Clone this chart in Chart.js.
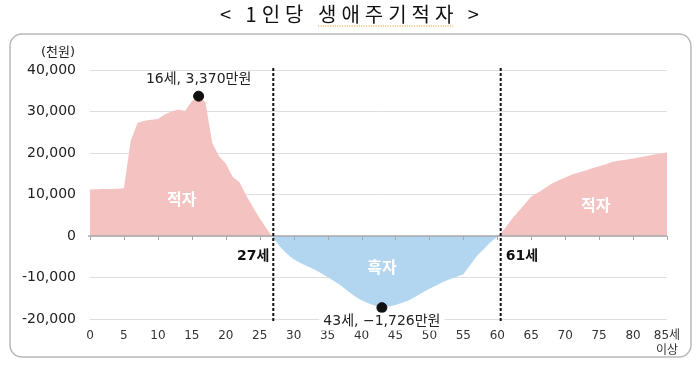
<!DOCTYPE html>
<html>
<head>
<meta charset="utf-8">
<script src="https://cdn.jsdelivr.net/npm/chart.js@4"></script>
<style>
  html, body { margin: 0; padding: 0; background: #fff; }
  #wrap { width: 698px; height: 368px; }
</style>
</head>
<body>
<div id="wrap"><canvas id="lcdChart" width="698" height="368"></canvas></div>
<script>
const ages = [0, 1, 2, 3, 4, 5, 6, 7, 8, 9, 10, 11, 12, 13, 14, 15, 16, 17, 18, 19,
  20, 21, 22, 23, 24, 25, 26, 27, 28, 29, 30, 31, 32, 33, 34, 35, 36, 37, 38, 39,
  40, 41, 42, 43, 44, 45, 46, 47, 48, 49, 50, 51, 52, 53, 54, 55, 56, 57, 58, 59,
  60, 61, 62, 63, 64, 65, 66, 67, 68, 69, 70, 71, 72, 73, 74, 75, 76, 77, 78, 79,
  80, 81, 82, 83, 84, 85];
// 1인당 생애주기적자 (천원)
const deficit = [11200, 11250, 11300, 11350, 11400, 11500, 23000, 27200, 27800, 28000,
  28200, 29300, 30000, 30500, 30100, 32500, 33700, 32300, 22500, 19200,
  17500, 14300, 13000, 9800, 7000, 4300, 1800, -500, -2600, -4300,
  -5600, -6500, -7300, -8000, -8900, -9900, -10900, -12000, -13300, -14500,
  -15500, -16200, -16800, -17260, -17000, -16600, -16100, -15500, -14600, -13600,
  -12700, -11900, -11100, -10400, -9800, -9200, -7000, -4800, -3200, -1500,
  -200, 1500, 3800, 5700, 7600, 9500, 10500, 11500, 12600, 13400,
  14100, 14800, 15300, 15800, 16300, 16800, 17300, 17900, 18200, 18400,
  18700, 19000, 19300, 19600, 19900, 20100];

const peakAges = [16, 43];
const peakValues = [33700, -17260];
const peakLabels = ['16세, 3,370만원', '43세, \u22121,726만원'];

const turnAges = [27, 60.5];
const turnLabels = ['27세', '61세'];

const areaLabels = ['적자', '흑자', '적자'];
const areaAges = [13.5, 43, 74.5];
const areaValues = [9000, -7500, 7500];

const yUnit = '(천원)';
const titlePre = '< 1인당 ';
const titleMain = '생애주기적자';
const titlePost = ' >';

const FONT = "'DejaVu Sans', 'Noto Sans CJK KR', sans-serif";
const KFONT = "'Noto Sans CJK KR', sans-serif";
const PINK = 'rgb(244, 195, 193)';
const BLUE = 'rgb(178, 214, 240)';

const decorPlugin = {
  id: 'decor',
  beforeDraw(chart) {
    const c = chart.ctx;
    c.save();
    // rounded frame
    c.strokeStyle = '#b8b8b8';
    c.lineWidth = 1.5;
    c.beginPath();
    c.roundRect(10, 34, 681, 323, 12);
    c.stroke();
    // title
    c.fillStyle = '#111';
    c.font = '20px ' + KFONT;
    c.letterSpacing = '5px';
    c.textAlign = 'left';
    c.textBaseline = 'alphabetic';
    const full = titlePre + titleMain + titlePost;
    const tw = c.measureText(full).width;
    const x0 = 352 - tw / 2;
    c.fillText(full, x0, 22);
    const u0 = x0 + c.measureText(titlePre).width;
    const u1 = u0 + c.measureText(titleMain).width - 5;
    c.letterSpacing = '0px';
    // spell-check style dotted underline
    c.strokeStyle = '#f0a030';
    c.lineWidth = 1.2;
    c.setLineDash([1.2, 1.2]);
    c.beginPath();
    c.moveTo(u0, 26);
    c.lineTo(u1, 26);
    c.stroke();
    c.setLineDash([]);
    // unit
    c.fillStyle = '#222';
    c.font = '13px ' + FONT;
    c.textAlign = 'center';
    c.fillText(yUnit, 58, 56);
    c.restore();
  },
  afterDatasetsDraw(chart) {
    const c = chart.ctx;
    const xs = chart.scales.x;
    const ys = chart.scales.y;
    const area = chart.chartArea;
    c.save();
    // zero line with tick marks
    const y0 = ys.getPixelForValue(0);
    c.strokeStyle = '#a8a8a8';
    c.lineWidth = 1.5;
    c.beginPath();
    c.moveTo(area.left - 2, y0);
    c.lineTo(area.right, y0);
    c.stroke();
    c.lineWidth = 1;
    for (let a = 0; a <= 85; a += 5) {
      const px = Math.round(xs.getPixelForValue(a)) + 0.5;
      c.beginPath();
      c.moveTo(px, y0);
      c.lineTo(px, y0 + 4);
      c.stroke();
    }
    // dashed turning lines
    c.strokeStyle = '#111';
    c.lineWidth = 2;
    c.setLineDash([3, 2]);
    turnAges.forEach(a => {
      const px = xs.getPixelForValue(a);
      c.beginPath();
      c.moveTo(px, area.top - 2);
      c.lineTo(px, area.bottom + 3);
      c.stroke();
    });
    c.setLineDash([]);
    // turning labels
    c.fillStyle = '#111';
    c.font = 'bold 14px ' + FONT;
    c.textBaseline = 'middle';
    const ty = ys.getPixelForValue(-5000);
    c.textAlign = 'right';
    c.fillText(turnLabels[0], xs.getPixelForValue(turnAges[0]) - 4, ty);
    c.textAlign = 'left';
    c.fillText(turnLabels[1], xs.getPixelForValue(turnAges[1]) + 5, ty);
    // area labels
    c.fillStyle = '#fff';
    c.font = 'bold 16px ' + KFONT;
    c.textAlign = 'center';
    areaLabels.forEach((t, i) => {
      c.fillText(t, xs.getPixelForValue(areaAges[i]), ys.getPixelForValue(areaValues[i]));
    });
    // peak labels
    c.font = '14px ' + FONT;
    peakLabels.forEach((t, i) => {
      const px = xs.getPixelForValue(peakAges[i]);
      const py = ys.getPixelForValue(peakValues[i]);
      const ly = i === 0 ? py - 17 : py + 14;
      const w = c.measureText(t).width;
      if (i === 1) {
        c.fillStyle = '#fff';
        c.fillRect(px - w / 2 - 4, ly - 9, w + 8, 18);
      }
      c.fillStyle = '#222';
      c.fillText(t, px, ly);
    });
    c.restore();
  }
};

const ctx = document.getElementById('lcdChart').getContext('2d');
const lcdChart = new Chart(ctx, {
  type: 'line',
  data: {
    datasets: [{
      label: '생애주기적자',
      data: ages.map((a, i) => ({ x: a, y: deficit[i] })),
      borderWidth: 0,
      borderColor: 'rgba(0,0,0,0)',
      pointRadius: 0,
      tension: 0,
      fill: { target: 'origin', above: PINK, below: BLUE },
      order: 2
    }, {
      type: 'scatter',
      label: 'peaks',
      data: peakAges.map((a, i) => ({ x: a, y: peakValues[i] })),
      backgroundColor: '#111',
      borderColor: '#111',
      pointRadius: 5,
      order: 1
    }]
  },
  options: {
    responsive: false,
    animation: false,
    layout: { padding: { top: 70, right: 31, bottom: 0, left: 0 } },
    plugins: {
      legend: { display: false },
      tooltip: { enabled: false },
      title: { display: false }
    },
    scales: {
      x: {
        type: 'linear',
        min: 0,
        max: 85,
        afterFit(scale) { scale.height = 49; },
        border: { display: false },
        grid: { display: false, drawTicks: false },
        ticks: {
          stepSize: 5,
          padding: 10,
          maxRotation: 0,
          color: '#333',
          font: { family: FONT, size: 12 },
          callback: v => v === 85 ? ['85세', '이상'] : String(v)
        }
      },
      y: {
        min: -20000,
        max: 40000,
        afterFit(scale) { scale.width = 90; },
        border: { display: false },
        grid: {
          drawTicks: false,
          color: '#dedede',
          lineWidth: 1
        },
        ticks: {
          stepSize: 10000,
          padding: 14,
          color: '#222',
          font: { family: FONT, size: 14 },
          callback: v => v.toLocaleString('en-US').replace('\u2212', '-')
        }
      }
    }
  },
  plugins: [decorPlugin]
});
</script>
</body>
</html>
